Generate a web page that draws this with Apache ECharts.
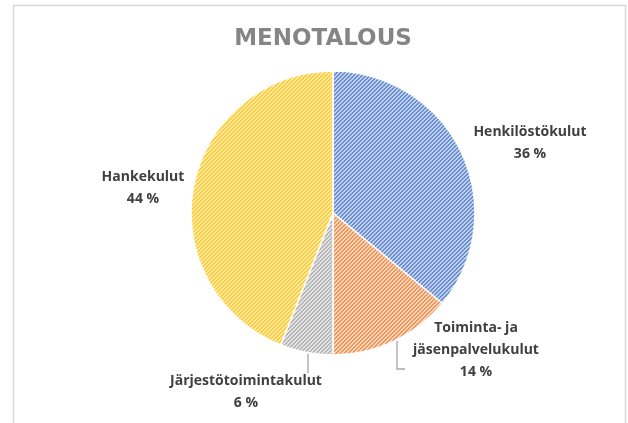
<!DOCTYPE html>
<html><head><meta charset="utf-8">
<script src="https://cdn.jsdelivr.net/npm/echarts@6/dist/echarts.min.js"></script>
<style>html,body{margin:0;padding:0;background:#fff;}#c{width:628px;height:423px;}</style>
</head><body><div id="c"></div>
<script>
const titleText = 'MENOTALOUS';
const categories = ['Henkilöstökulut', 'Toiminta- ja jäsenpalvelukulut', 'Järjestötoimintakulut', 'Hankekulut'];
const values = [36, 14, 6, 44];
const baseColors = ['#4472C4', '#ED7D31', '#A5A5A5', '#FFC000'];

const CX = 333, CY = 213, R = 142;
// label centre offsets from pie centre
const labelOffset = [[197, -70], [143, 137], [-87, 179], [-190, -25]];
// leader lines: x-offset of start on the rim, bend depth below centre, end x-offset
const leader = [null, { sx: 64, by: 156, ex: 72 }, { sx: -25, by: 160, ex: -25 }, null];

function mix(hex, t) {
  const n = parseInt(hex.slice(1), 16);
  const r = n >> 16, g = (n >> 8) & 255, b = n & 255;
  const f = v => Math.round(v + (255 - v) * t);
  return 'rgb(' + f(r) + ',' + f(g) + ',' + f(b) + ')';
}
function stripe(hex) {
  const c = document.createElement('canvas');
  c.width = 4; c.height = 4;
  const ctx = c.getContext('2d');
  for (let x = 0; x < 4; x++) for (let y = 0; y < 4; y++) {
    const k = (x + y) % 4;
    ctx.fillStyle = (k === 0 || k === 1) ? mix(hex, 0.2) : mix(hex, 0.68);
    ctx.fillRect(x, y, 1, 1);
  }
  return { image: c, repeat: 'repeat' };
}

const chart = echarts.init(document.getElementById('c'), null, { renderer: 'canvas' });
const data = categories.map((n, i) => ({
  name: n, value: values[i],
  itemStyle: { color: stripe(baseColors[i]) },
  labelLine: { show: !!leader[i] }
}));
chart.setOption({
  animation: false,
  backgroundColor: '#fff',
  graphic: [{ type: 'rect', shape: { x: 13.5, y: 5.5, width: 612, height: 430 }, style: { fill: 'none', stroke: '#d9d9d9', lineWidth: 1.5 }, silent: true }],
  title: {
    text: titleText, left: 318, top: 23, textAlign: 'center',
    textStyle: { fontFamily: 'DejaVu Sans', fontWeight: 'bold', fontSize: 23, color: '#858585' }
  },
  series: [{
    type: 'pie',
    center: [CX, CY], radius: [0, R],
    startAngle: 90, clockwise: true,
    data: data,
    itemStyle: { borderColor: '#fff', borderWidth: 1.5 },
    label: {
      show: true, position: 'outside',
      fontFamily: 'Open Sans', fontWeight: 'bold', fontSize: 14, color: '#404040',
      lineHeight: 22, align: 'center',
      formatter: p => p.name.replace('- ja ', '- ja\n') + '\n' + p.value + ' %'
    },
    labelLine: { lineStyle: { color: '#a6a6a6', width: 1.3 }, length: 10, length2: 10 },
    labelLayout: p => {
      const i = p.dataIndex;
      const o = { x: CX + labelOffset[i][0], y: CY + labelOffset[i][1], align: 'center', verticalAlign: 'middle' };
      const L = leader[i];
      if (L) {
        const sy = CY + Math.sqrt(R * R - L.sx * L.sx) + 1;
        o.labelLinePoints = [[CX + L.sx, sy], [CX + L.sx, CY + L.by], [CX + L.ex, CY + L.by]];
      }
      return o;
    }
  }]
});
</script></body></html>
